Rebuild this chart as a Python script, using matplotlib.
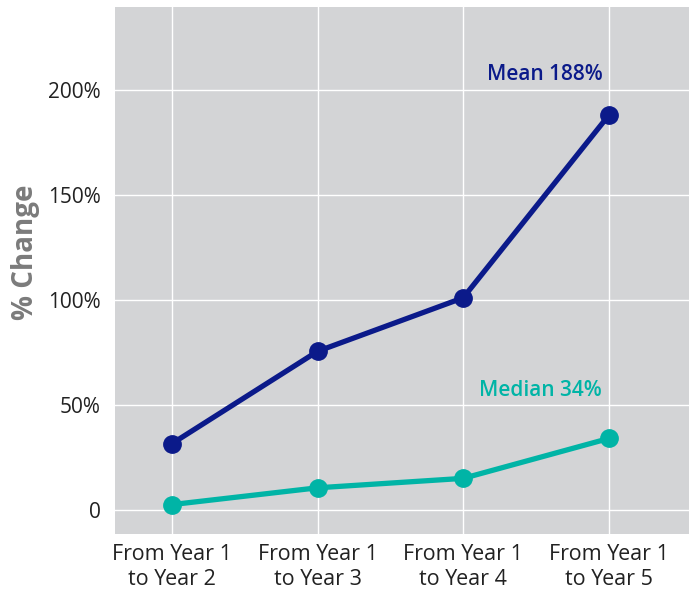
import matplotlib
matplotlib.use("Agg")
import matplotlib.pyplot as plt
from matplotlib import font_manager as fm
from matplotlib.ticker import FuncFormatter


def font_file(fname, size):
    for f in fm.fontManager.ttflist:
        if f.fname.endswith("/" + fname):
            return fm.FontProperties(fname=f.fname, size=size)
    return fm.FontProperties(family="Open Sans", size=size)


categories = ["From Year 1\nto Year 2", "From Year 1\nto Year 3",
              "From Year 1\nto Year 4", "From Year 1\nto Year 5"]
mean_pct = [31.5, 75.5, 101, 188]
median_pct = [2.5, 10.5, 15, 34]
y_ticks = [0, 50, 100, 150, 200]

navy = "#0b1a8a"
teal = "#00b4a6"
panel = "#d3d4d6"

tick_font_x = font_file("OpenSans-Regular.ttf", 15.5)
tick_font_y = font_file("OpenSans-Regular.ttf", 15)
label_font = font_file("OpenSans-Semibold.ttf", 15)
axis_font = font_file("OpenSans-Bold.ttf", 20)

fig = plt.figure(figsize=(6.89, 5.89), dpi=100)
ax = fig.add_axes([115/689, 1 - 534/589, 574/689, 527/589])
ax.set_facecolor(panel)

x = list(range(len(categories)))
ax.plot(x, mean_pct, color=navy, lw=3.8, marker='o', ms=12.5, zorder=3,
        solid_capstyle='round')
ax.plot(x, median_pct, color=teal, lw=3.8, marker='o', ms=12.5, zorder=3,
        solid_capstyle='round')

ax.text(2.56, 207.5, f"Mean {mean_pct[-1]:.0f}%", color=navy,
        fontproperties=label_font, ha='center', va='center')
ax.text(2.53, 57, f"Median {median_pct[-1]:.0f}%", color=teal,
        fontproperties=label_font, ha='center', va='center')

ax.set_xlim(-0.39, 3.55)
ax.set_ylim(-11.5, 239.5)
ax.set_xticks(x)
ax.set_xticklabels(categories, color="#222222", linespacing=1.25)
for t in ax.get_xticklabels():
    t.set_fontproperties(tick_font_x)
ax.set_yticks(y_ticks)
ax.yaxis.set_major_formatter(FuncFormatter(lambda v, p: "0" if v == 0 else f"{v:.0f}%"))
for t in ax.get_yticklabels():
    t.set_fontproperties(tick_font_y)
ax.tick_params(axis='y', labelcolor="#222222", length=0, pad=10)
ax.tick_params(axis='x', length=0, pad=7)
ax.grid(True, color="white", lw=1.0)
ax.set_axisbelow(True)
for s in ax.spines.values():
    s.set_visible(False)

fig.text(25/689, 1 - 252/589, "% Change", rotation=90, color="#7b7b7b",
         fontproperties=axis_font, ha='center', va='center')

fig.savefig("out.png", dpi=100)
